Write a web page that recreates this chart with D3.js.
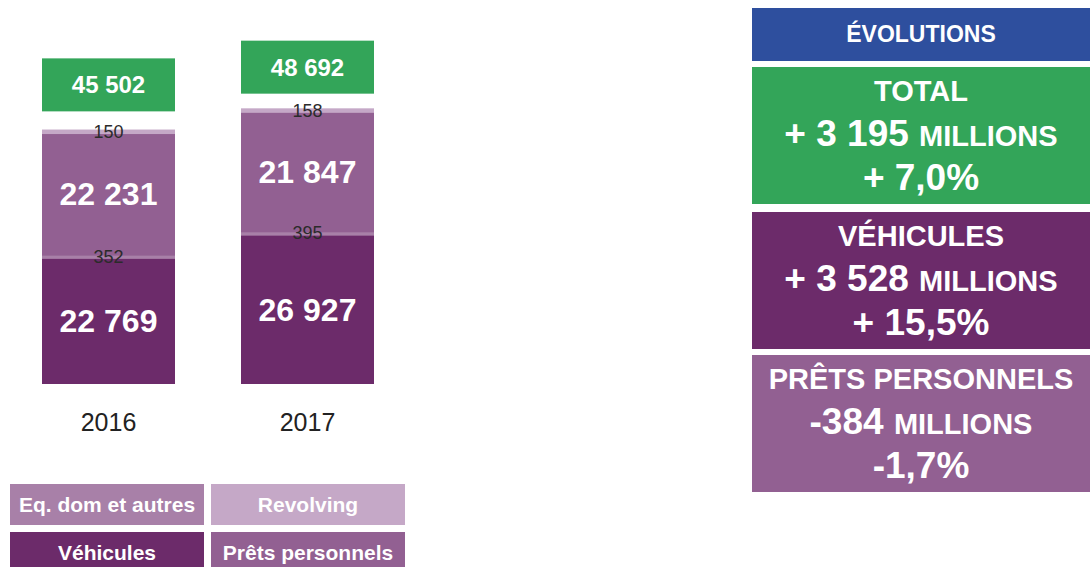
<!DOCTYPE html>
<html>
<head>
<meta charset="utf-8">
<script src="https://cdn.jsdelivr.net/npm/d3@7"></script>
<style>
  body { margin: 0; background: #fff; }
  text { font-family: "Liberation Sans", Arial, Helvetica, sans-serif; }
</style>
</head>
<body>
<div id="chart"></div>
<script>
// données encours (millions)
var years = ["2016", "2017"];
var vehicules = [22769, 26927];
var eqDom = [352, 395];
var pretsPerso = [22231, 21847];
var revolving = [150, 158];
var totals = [45502, 48692];

var legendLabels = ["Eq. dom et autres", "Revolving", "Véhicules", "Prêts personnels"];

var evoTitles = ["TOTAL", "VÉHICULES", "PRÊTS PERSONNELS"];
var evoAmounts = ["+ 3 195", "+ 3 528", "-384"];
var evoPct = ["+ 7,0%", "+ 15,5%", "-1,7%"];

var col_green = "#33a559",
    col_blue = "#2e4f9e",
    col_veh = "#6c2b6a",
    col_prets = "#926092",
    col_eq = "#a880a8",
    col_rev = "#c5a8c7";

var width = 1090, height = 567;

var svg = d3.select("#chart").append("svg")
    .attr("width", width)
    .attr("height", height);

var fmt = function (v) {
    return d3.format(",")(v).replace(/,/g, " ");
};

// échelles
var scale_x = d3.scaleBand()
    .domain(years)
    .range([42, 374])
    .paddingInner(0.3317);

var scale_y = d3.scaleLinear()
    .domain([0, 50000])
    .range([384, 106.4]);

// segments empilés (ordre bas -> haut)
var series = [
    {key: "veh", values: vehicules, color: col_veh, big: true},
    {key: "eq", values: eqDom, color: col_eq, big: false},
    {key: "prets", values: pretsPerso, color: col_prets, big: true},
    {key: "rev", values: revolving, color: col_rev, big: false}
];

var segs = [];
years.forEach(function (y, i) {
    var acc = 0;
    series.forEach(function (s) {
        segs.push({year: y, key: s.key, v: s.values[i], y0: acc, y1: acc + s.values[i], color: s.color, big: s.big});
        acc += s.values[i];
    });
});

var bw = scale_x.bandwidth();
var chart = svg.append("g");

// rectangles
chart.selectAll(".seg")
    .data(segs)
    .enter()
    .append("rect")
    .attr("x", function (d) { return scale_x(d.year); })
    .attr("width", bw)
    .attr("y", function (d) {
        var h = scale_y(d.y0) - scale_y(d.y1);
        if (d.big) return scale_y(d.y1);
        var mid = (scale_y(d.y0) + scale_y(d.y1)) / 2;
        return mid - Math.max(h, 4.5) / 2;
    })
    .attr("height", function (d) {
        var h = scale_y(d.y0) - scale_y(d.y1);
        return d.big ? h : Math.max(h, 4.5);
    })
    .attr("fill", function (d) { return d.color; });

// étiquettes (au-dessus de tous les rectangles)
chart.selectAll(".lbl")
    .data(segs)
    .enter()
    .append("text")
    .text(function (d) { return fmt(d.v); })
    .attr("x", function (d) { return scale_x(d.year) + bw / 2; })
    .attr("y", function (d) { return (scale_y(d.y0) + scale_y(d.y1)) / 2; })
    .attr("dy", function (d) { return d.big ? "0.36em" : "0.33em"; })
    .attr("text-anchor", "middle")
    .attr("font-size", function (d) { return d.big ? "32px" : "18px"; })
    .attr("font-weight", function (d) { return d.big ? "bold" : "normal"; })
    .attr("fill", function (d) { return d.big ? "#fff" : "#2b2b2b"; });

// totaux
var tot = chart.selectAll(".tot")
    .data(years)
    .enter()
    .append("g")
    .attr("transform", function (d, i) {
        return "translate(" + scale_x(d) + "," + (scale_y(totals[i]) - 20 - 53) + ")";
    });

tot.append("rect")
    .attr("width", bw)
    .attr("height", 53)
    .attr("fill", col_green);

tot.append("text")
    .text(function (d, i) { return fmt(totals[i]); })
    .attr("x", bw / 2)
    .attr("y", 26.5)
    .attr("dy", "0.36em")
    .attr("text-anchor", "middle")
    .attr("font-size", "24px")
    .attr("font-weight", "bold")
    .attr("fill", "#fff");

// années
chart.selectAll(".year")
    .data(years)
    .enter()
    .append("text")
    .text(function (d) { return d; })
    .attr("x", function (d) { return scale_x(d) + bw / 2; })
    .attr("y", 431)
    .attr("text-anchor", "middle")
    .attr("font-size", "25px")
    .attr("fill", "#222");

// légende
var legColors = [col_eq, col_rev, col_veh, col_prets];
var leg = svg.selectAll(".leg")
    .data(legendLabels)
    .enter()
    .append("g")
    .attr("transform", function (d, i) {
        return "translate(" + (i % 2 === 0 ? 10 : 211) + "," + (i < 2 ? 484 : 532) + ")";
    });

leg.append("rect")
    .attr("width", 194)
    .attr("height", 41)
    .attr("fill", function (d, i) { return legColors[i]; });

leg.append("text")
    .text(function (d) { return d; })
    .attr("x", 97)
    .attr("y", 20.5)
    .attr("dy", "0.36em")
    .attr("text-anchor", "middle")
    .attr("font-size", "21px")
    .attr("font-weight", "bold")
    .attr("fill", "#fff");

// panneau évolutions
var px = 752, pw = 338, cx = px + pw / 2;

svg.append("rect")
    .attr("x", px).attr("y", 8)
    .attr("width", pw).attr("height", 53)
    .attr("fill", col_blue);

svg.append("text")
    .text("ÉVOLUTIONS")
    .attr("x", cx).attr("y", 42)
    .attr("text-anchor", "middle")
    .attr("font-size", "23px")
    .attr("font-weight", "bold")
    .attr("fill", "#fff");

var boxTops = [67, 212, 355];
var boxColors = [col_green, col_veh, col_prets];

var evo = svg.selectAll(".evo")
    .data(evoTitles)
    .enter()
    .append("g")
    .attr("transform", function (d, i) { return "translate(" + px + "," + boxTops[i] + ")"; });

evo.append("rect")
    .attr("width", pw)
    .attr("height", 137)
    .attr("fill", function (d, i) { return boxColors[i]; });

evo.append("text")
    .text(function (d) { return d; })
    .attr("x", pw / 2).attr("y", 34)
    .attr("text-anchor", "middle")
    .attr("font-size", "29px")
    .attr("font-weight", "bold")
    .attr("fill", "#fff");

var line2 = evo.append("text")
    .attr("x", pw / 2).attr("y", 79)
    .attr("text-anchor", "middle")
    .attr("font-weight", "bold")
    .attr("fill", "#fff");

line2.append("tspan")
    .text(function (d, i) { return evoAmounts[i] + " "; })
    .attr("font-size", "37px");

line2.append("tspan")
    .text("MILLIONS")
    .attr("font-size", "29px");

evo.append("text")
    .text(function (d, i) { return evoPct[i]; })
    .attr("x", pw / 2).attr("y", 123)
    .attr("text-anchor", "middle")
    .attr("font-size", "37px")
    .attr("font-weight", "bold")
    .attr("fill", "#fff");
</script>
</body>
</html>
